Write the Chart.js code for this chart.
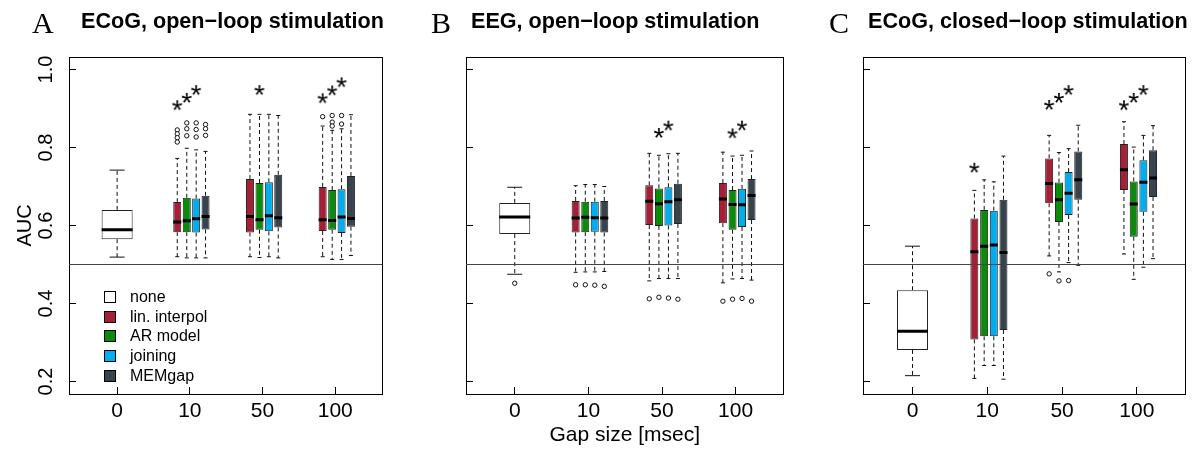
<!DOCTYPE html>
<html>
<head>
<meta charset="utf-8">
<script src="https://cdn.jsdelivr.net/npm/chart.js@4.4.0/dist/chart.umd.min.js"></script>
<style>
  body { margin: 0; background: #fff; }
  #wrap { position: relative; width: 1204px; height: 450px; overflow: hidden; font-family: "Liberation Sans", Arial, sans-serif; color: #000; }
  #wrap canvas { position: absolute; top: 0; }
  .let { position: absolute; font-family: "Liberation Serif", "Times New Roman", serif; font-size: 30px; line-height: 30px; white-space: nowrap; }
  .ttl { position: absolute; font-weight: bold; font-size: 21.6px; line-height: 21.6px; white-space: nowrap; }
  .leg { position: absolute; left: 104px; top: 287px; font-size: 16px; }
  .leg .row { height: 19.7px; display: flex; align-items: center; }
  .leg .sw { display: inline-block; width: 10px; height: 10px; border: 1px solid #000; margin-right: 14px; }
</style>
</head>
<body>
<div id="wrap">
  <canvas id="cA" width="401" height="450" style="left:0px"></canvas>
  <canvas id="cB" width="401" height="450" style="left:401px"></canvas>
  <canvas id="cC" width="402" height="450" style="left:802px"></canvas>
  <div class="let" style="left:32px;top:8px">A</div>
  <div class="ttl" style="left:81px;top:10px">ECoG, open−loop stimulation</div>
  <div class="let" style="left:431px;top:8px">B</div>
  <div class="ttl" style="left:471px;top:10px">EEG, open−loop stimulation</div>
  <div class="let" style="left:829px;top:8px">C</div>
  <div class="ttl" style="left:868px;top:10px">ECoG, closed−loop stimulation</div>
  <div class="leg" id="legend"></div>
</div>
<script>
// ---------------- data ----------------
const gapLabels = ['0', '10', '50', '100'];
const methodNames = ['none', 'lin. interpol', 'AR model', 'joining', 'MEMgap'];
const yTickValues = [0.2, 0.4, 0.6, 0.8, 1.0];

// five-number summaries [lower whisker, Q1, median, Q3, upper whisker]; per gap 10 / 50 / 100
const ecogOpenNone = [0.519, 0.565, 0.589, 0.640, 0.742];
const ecogOpenLin  = [[0.520, 0.583, 0.609, 0.660, 0.772], [0.520, 0.582, 0.623, 0.719, 0.885], [0.520, 0.586, 0.615, 0.699, 0.855]];
const ecogOpenAR   = [[0.517, 0.583, 0.612, 0.671, 0.798], [0.518, 0.589, 0.615, 0.709, 0.885], [0.513, 0.589, 0.613, 0.691, 0.844]];
const ecogOpenJoin = [[0.517, 0.582, 0.617, 0.669, 0.794], [0.520, 0.585, 0.625, 0.711, 0.885], [0.513, 0.581, 0.622, 0.693, 0.848]];
const ecogOpenMEM  = [[0.517, 0.590, 0.623, 0.676, 0.790], [0.517, 0.595, 0.620, 0.730, 0.882], [0.523, 0.597, 0.618, 0.727, 0.884]];
const ecogOpenNoneOut = [];
const ecogOpenLinOut  = [[0.845, 0.835, 0.825, 0.814], [], [0.879]];
const ecogOpenAROut   = [[0.863, 0.848, 0.830], [], [0.882, 0.865, 0.855]];
const ecogOpenJoinOut = [[0.863, 0.846, 0.827], [], [0.882, 0.860]];
const ecogOpenMEMOut  = [[0.859, 0.848, 0.831], [], []];
// significance stars: per gap, per method (lin, AR, joining, MEMgap); value = height, null = none
const ecogOpenStars = [[0.908, 0.927, 0.947, null], [null, 0.947, null, null], [0.926, 0.946, 0.967, null]];

const eegOpenNone = [0.475, 0.578, 0.622, 0.658, 0.698];
const eegOpenLin  = [[0.480, 0.582, 0.619, 0.663, 0.702], [0.458, 0.601, 0.662, 0.703, 0.785], [0.453, 0.606, 0.668, 0.709, 0.788]];
const eegOpenAR   = [[0.481, 0.583, 0.621, 0.661, 0.705], [0.464, 0.599, 0.656, 0.695, 0.780], [0.463, 0.589, 0.654, 0.691, 0.778]];
const eegOpenJoin = [[0.481, 0.584, 0.620, 0.661, 0.705], [0.464, 0.600, 0.661, 0.698, 0.784], [0.464, 0.596, 0.653, 0.694, 0.780]];
const eegOpenMEM  = [[0.482, 0.582, 0.619, 0.663, 0.700], [0.464, 0.604, 0.666, 0.707, 0.785], [0.460, 0.614, 0.677, 0.719, 0.791]];
const eegOpenNoneOut = [0.452];
const eegOpenLinOut  = [[0.448], [0.412], [0.406]];
const eegOpenAROut   = [[0.448], [0.416], [0.411]];
const eegOpenJoinOut = [[0.447], [0.414], [0.413]];
const eegOpenMEMOut  = [[0.444], [0.411], [0.406]];
const eegOpenStars = [[null, null, null, null], [null, 0.837, 0.856, null], [null, 0.836, 0.856, null]];

const ecogClosedNone = [0.215, 0.281, 0.329, 0.434, 0.547];
const ecogClosedLin  = [[0.208, 0.308, 0.533, 0.618, 0.690], [0.522, 0.657, 0.708, 0.772, 0.831], [0.527, 0.691, 0.743, 0.809, 0.866]];
const ecogClosedAR   = [[0.241, 0.316, 0.547, 0.640, 0.717], [0.481, 0.609, 0.666, 0.710, 0.787], [0.462, 0.571, 0.655, 0.713, 0.801]];
const ecogClosedJoin = [[0.241, 0.316, 0.550, 0.638, 0.712], [0.505, 0.627, 0.683, 0.737, 0.797], [0.493, 0.635, 0.711, 0.767, 0.831]];
const ecogClosedMEM  = [[0.206, 0.332, 0.531, 0.666, 0.778], [0.498, 0.666, 0.717, 0.790, 0.857], [0.515, 0.673, 0.722, 0.793, 0.856]];
const ecogClosedNoneOut = [];
const ecogClosedLinOut  = [[], [0.476], []];
const ecogClosedAROut   = [[], [0.458], []];
const ecogClosedJoinOut = [[], [0.459], []];
const ecogClosedMEMOut  = [[], [], []];
const ecogClosedStars = [[0.748, null, null, null], [0.909, 0.927, 0.947, null], [0.908, 0.927, 0.947, null]];

// ---------------- layout / style ----------------
const groupPos = [1, 2, 3, 4];
const methodOffset = [-0.173, -0.042, 0.087, 0.216];
const colors = ['#FFFFFF', '#A51F37', '#0A8B0A', '#00AEEF', '#37434D'];
const X_MIN = 0.338, X_MAX = 4.650, Y_MIN = 0.168, Y_MAX = 1.032, REF = 0.5;

Chart.defaults.font.family = '"Liberation Sans", Arial, sans-serif';
Chart.defaults.color = '#000';

function makeStar() {
  const c = document.createElement('canvas');
  c.width = 18; c.height = 18;
  const g = c.getContext('2d');
  g.font = '28px "Liberation Sans", Arial';
  g.textAlign = 'center';
  g.textBaseline = 'alphabetic';
  const m = g.measureText('*');
  const a = m.actualBoundingBoxAscent, d = m.actualBoundingBoxDescent;
  g.fillStyle = '#000';
  g.fillText('*', 9, 9 + (a - d) / 2);
  return c;
}
const starImg = makeStar();

function buildDatasets(none, series, noneOut, seriesOut, stars) {
  const ds = [];
  const whisk = [], capsS = [], capsL = [], medS = [], medL = [], outs = [], starPts = [];
  const x0 = groupPos[0];
  ds.push({ type: 'bar', data: [{ x: x0, y: [none[1], none[3]] }], backgroundColor: colors[0], borderColor: '#222',
    borderWidth: 1, borderSkipped: false, grouped: false, barPercentage: 10, maxBarThickness: 31, order: 5 });
  whisk.push({ x: x0, y: none[3] }, { x: x0, y: none[4] }, { x: x0, y: null }, { x: x0, y: none[1] }, { x: x0, y: none[0] }, { x: x0, y: null });
  capsL.push({ x: x0, y: none[0] }, { x: x0, y: none[4] });
  medL.push({ x: x0, y: none[2] });
  noneOut.forEach(v => outs.push({ x: x0, y: v }));
  series.forEach((s, m) => {
    const pts = [];
    s.forEach((q, g) => {
      const x = groupPos[g + 1] + methodOffset[m];
      pts.push({ x, y: [q[1], q[3]] });
      whisk.push({ x, y: q[3] }, { x, y: q[4] }, { x, y: null }, { x, y: q[1] }, { x, y: q[0] }, { x, y: null });
      capsS.push({ x, y: q[0] }, { x, y: q[4] });
      medS.push({ x, y: q[2] });
      seriesOut[m][g].forEach(v => outs.push({ x, y: v }));
      if (stars[g][m] !== null) starPts.push({ x, y: stars[g][m] });
    });
    ds.push({ type: 'bar', data: pts, backgroundColor: colors[m + 1], borderColor: '#222', borderWidth: 1,
      borderSkipped: false, grouped: false, barPercentage: 10, maxBarThickness: 8, order: 5 });
  });
  ds.push({ type: 'line', data: whisk, borderColor: '#111', borderWidth: 1, borderDash: [4, 3], pointRadius: 0, spanGaps: false, fill: false, order: 6 });
  ds.push({ type: 'scatter', data: capsS, pointStyle: 'line', pointRadius: 2, borderColor: '#111', borderWidth: 1, order: 3 });
  ds.push({ type: 'scatter', data: capsL, pointStyle: 'line', pointRadius: 7.5, borderColor: '#111', borderWidth: 1, order: 3 });
  ds.push({ type: 'scatter', data: medS, pointStyle: 'line', pointRadius: 4, borderColor: '#000', borderWidth: 3, order: 2 });
  ds.push({ type: 'scatter', data: medL, pointStyle: 'line', pointRadius: 15.5, borderColor: '#000', borderWidth: 3, order: 2 });
  ds.push({ type: 'scatter', data: outs, pointStyle: 'circle', pointRadius: 2.2, borderColor: '#111', backgroundColor: '#fff', borderWidth: 1, order: 3 });
  ds.push({ type: 'line', data: [{ x: X_MIN, y: REF }, { x: X_MAX, y: REF }], borderColor: '#444', borderWidth: 1, pointRadius: 0, fill: false, order: 1 });
  ds.push({ type: 'scatter', data: starPts, pointStyle: starImg, pointRadius: 5, order: 0 });
  return ds;
}

function makeChart(id, canvasW, plotLeft, plotRight, showYLabels, showXTitle, datasets) {
  const axisTicks = { display: true, drawOnChartArea: false, drawTicks: true, tickLength: -7, color: '#000', lineWidth: 1, offset: false };
  return new Chart(document.getElementById(id), {
    type: 'scatter',
    data: { datasets },
    options: {
      responsive: false, animation: false, devicePixelRatio: 1, events: [],
      layout: { padding: { top: 57, right: canvasW - plotRight, bottom: 0, left: 0 } },
      plugins: { legend: { display: false }, tooltip: { enabled: false }, title: { display: false } },
      scales: {
        x: {
          type: 'linear', position: 'bottom', min: X_MIN, max: X_MAX, offset: false,
          afterBuildTicks: s => { s.ticks = groupPos.map(v => ({ value: v })); },
          ticks: { callback: v => gapLabels[groupPos.indexOf(v)], font: { size: 21 }, color: '#000', padding: 12, maxRotation: 0, autoSkip: false },
          grid: axisTicks,
          border: { display: true, color: '#000', width: 1 },
          title: { display: showXTitle, text: 'Gap size [msec]', font: { size: 21 }, color: '#000', padding: { top: 0, bottom: 2 } },
          afterFit: s => { s.height = 56; }
        },
        y: {
          type: 'linear', position: 'left', min: Y_MIN, max: Y_MAX,
          afterBuildTicks: s => { s.ticks = yTickValues.map(v => ({ value: v })); },
          ticks: { display: showYLabels, callback: v => v.toFixed(1), minRotation: 90, maxRotation: 90, crossAlign: 'center', padding: 16, font: { size: 20 }, color: '#000' },
          grid: axisTicks,
          border: { display: true, color: '#000', width: 1 },
          title: { display: showYLabels, text: 'AUC', font: { size: 20 }, color: '#000', padding: { top: 13.5, bottom: 0 } },
          afterFit: s => { s.width = plotLeft; }
        },
        xTop: {
          type: 'linear', position: 'top', display: true, ticks: { display: false }, grid: { display: false, drawTicks: false },
          border: { display: true, color: '#000', width: 1 }, afterFit: s => { s.height = 0; }
        },
        yRight: {
          type: 'linear', position: 'right', display: true, ticks: { display: false }, grid: { display: false, drawTicks: false },
          border: { display: true, color: '#000', width: 1 }, afterFit: s => { s.width = 0; }
        }
      }
    }
  });
}

makeChart('cA', 401, 69, 398, true, false,
  buildDatasets(ecogOpenNone, [ecogOpenLin, ecogOpenAR, ecogOpenJoin, ecogOpenMEM], ecogOpenNoneOut,
    [ecogOpenLinOut, ecogOpenAROut, ecogOpenJoinOut, ecogOpenMEMOut], ecogOpenStars));
makeChart('cB', 401, 65, 394, false, true,
  buildDatasets(eegOpenNone, [eegOpenLin, eegOpenAR, eegOpenJoin, eegOpenMEM], eegOpenNoneOut,
    [eegOpenLinOut, eegOpenAROut, eegOpenJoinOut, eegOpenMEMOut], eegOpenStars));
makeChart('cC', 402, 61, 390, false, false,
  buildDatasets(ecogClosedNone, [ecogClosedLin, ecogClosedAR, ecogClosedJoin, ecogClosedMEM], ecogClosedNoneOut,
    [ecogClosedLinOut, ecogClosedAROut, ecogClosedJoinOut, ecogClosedMEMOut], ecogClosedStars));

// legend (panel A)
const leg = document.getElementById('legend');
methodNames.forEach((name, i) => {
  const row = document.createElement('div');
  row.className = 'row';
  const sw = document.createElement('span');
  sw.className = 'sw';
  sw.style.background = colors[i];
  row.appendChild(sw);
  row.appendChild(document.createTextNode(name));
  leg.appendChild(row);
});
</script>
</body>
</html>
